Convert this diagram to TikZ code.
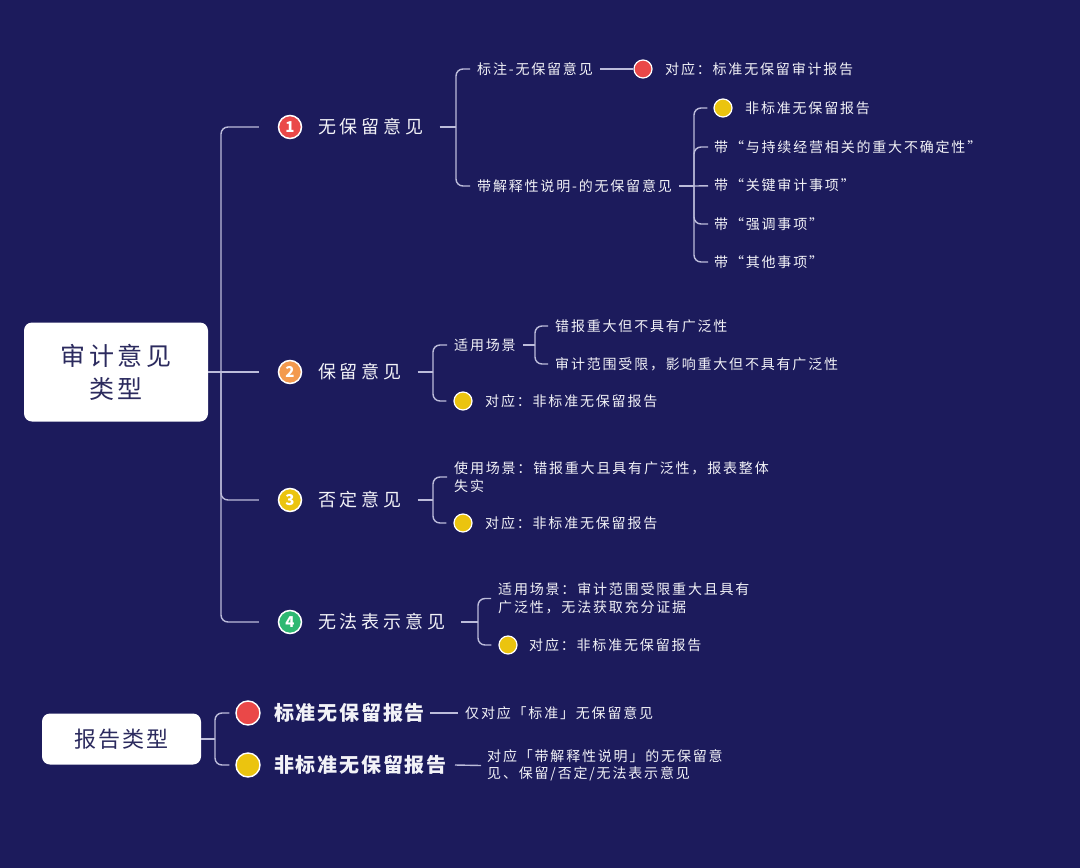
\documentclass[tikz,border=0pt]{standalone}
\usepackage{fontspec}
\setmainfont{Noto Sans CJK SC}
\newfontfamily\cjksm[LetterSpace=13]{Noto Sans CJK SC}
\newfontfamily\cjkmd[LetterSpace=21]{Noto Sans CJK SC}
\newfontfamily\cjkbg[LetterSpace=9]{Noto Sans CJK SC}
\newfontfamily\cjkrt[LetterSpace=15]{Noto Sans CJK SC}
\definecolor{bgc}{HTML}{1C1B5C}
\definecolor{linec}{HTML}{BCBCDA}
\definecolor{redc}{HTML}{EA4848}
\definecolor{orac}{HTML}{F39A4E}
\definecolor{yelc}{HTML}{EBC40F}
\definecolor{grnc}{HTML}{2EB872}
\definecolor{rootc}{HTML}{2B2A5E}
\definecolor{txtc}{HTML}{F2F2F7}
\tikzset{
  conn/.style={draw=linec, line width=1.4pt, rounded corners=7pt},
  rootbox/.style={fill=white, rounded corners=8pt, align=center, text=rootc, inner sep=0pt},
  topic/.style={anchor=west, inner sep=0pt, text=txtc, font=\cjkmd\fontsize{18}{22}\selectfont},
  leaf/.style={anchor=west, inner xsep=7pt, inner ysep=0pt, text=txtc, align=left, font=\cjksm\fontsize{14}{17.5}\selectfont},
  bigleaf/.style={anchor=west, inner sep=0pt, text=txtc, font=\cjkbg\bfseries\fontsize{20}{24}\selectfont},
  num/.style={circle, fill=#1, draw=white, line width=1.5pt, minimum size=23pt, inner sep=0pt, text=white, font=\bfseries\fontsize{15}{15}\selectfont},
  dot/.style={circle, fill=#1, draw=white, line width=1.2pt, minimum size=18pt, inner sep=0pt},
  bigdot/.style={circle, fill=#1, draw=white, line width=1.4pt, minimum size=24pt, inner sep=0pt},
}
\begin{document}
\begin{tikzpicture}[x=1pt, y=-1pt]
\useasboundingbox (0,0) rectangle (1080,868);
\fill[bgc] (0,0) rectangle (1080,868);

% ---------- root 1 ----------
\node[rootbox, minimum width=184pt, minimum height=99pt, font=\cjkrt\fontsize{25}{33}\selectfont] (root) at (116,372) {审计意见\\类型};
\coordinate (J0) at (221,372);

% level 1
\node[num=redc] (n1) at (290,127) {1};
\node[num=orac] (n2) at (290,372) {2};
\node[num=yelc] (n3) at (290,500) {3};
\node[num=grnc] (n4) at (290,622) {4};
\node[topic] (l1) at (318,127) {无保留意见};
\node[topic] (l2) at (318,372) {保留意见};
\node[topic] (l3) at (318,500) {否定意见};
\node[topic] (l4) at (318,622) {无法表示意见};

\draw[conn] (root.east) -- (J0);
\draw[conn, shorten >=19pt] (J0) |- (n1);
\draw[conn, shorten >=19pt] (J0) -- (n2);
\draw[conn, shorten >=19pt] (J0) |- (n3);
\draw[conn, shorten >=19pt] (J0) |- (n4);

% ---------- branch 1 ----------
\coordinate (J1) at (456,127);
\draw[conn] ([xshift=16pt]l1.east) -- (J1);
\node[leaf] (c11) at (470,69) {标注-无保留意见};
\node[leaf] (c12) at (470,186) {带解释性说明-的无保留意见};
\draw[conn] (J1) |- (c11);
\draw[conn] (J1) |- (c12);
\node[dot=redc] (d11) at (643,69) {};
\node[leaf, inner xsep=0pt] (t11) at (665,69) {对应：标准无保留审计报告};
\draw[conn] (c11.east) -- (d11);

\coordinate (J12) at (694,186);
\draw[conn] (c12.east) -- (J12);
\node[dot=yelc] (d121) at (723,108) {};
\node[leaf, inner xsep=0pt] (t121) at (745,108) {非标准无保留报告};
\node[leaf, inner xsep=6pt] (c122) at (708,147) {带“与持续经营相关的重大不确定性”};
\node[leaf, inner xsep=6pt] (c123) at (708,185) {带“关键审计事项”};
\node[leaf, inner xsep=6pt] (c124) at (708,224) {带“强调事项”};
\node[leaf, inner xsep=6pt] (c125) at (708,262) {带“其他事项”};
\draw[conn, shorten >=6pt] (J12) |- (d121);
\draw[conn] (J12) |- (c122);
\draw[conn] (J12) -- (c123);
\draw[conn] (J12) |- (c124);
\draw[conn] (J12) |- (c125);

% ---------- branch 2 ----------
\coordinate (J2) at (433,372);
\draw[conn] ([xshift=16pt]l2.east) -- (J2);
\node[leaf] (c21) at (447,345) {适用场景};
\draw[conn] (J2) |- (c21);
\node[dot=yelc] (d22) at (463,401) {};
\node[leaf, inner xsep=0pt] (t22) at (485,401) {对应：非标准无保留报告};
\draw[conn, shorten >=7pt] (J2) |- (d22);
\coordinate (J21) at (535,345);
\draw[conn] (c21.east) -- (J21);
\node[leaf] (c211) at (548,326) {错报重大但不具有广泛性};
\node[leaf] (c212) at (548,364) {审计范围受限，影响重大但不具有广泛性};
\draw[conn] (J21) |- (c211);
\draw[conn] (J21) |- (c212);

% ---------- branch 3 ----------
\coordinate (J3) at (433,500);
\draw[conn] ([xshift=16pt]l3.east) -- (J3);
\node[leaf] (c31) at (447,477) {使用场景：错报重大且具有广泛性，报表整体\\失实};
\draw[conn] (J3) |- (c31);
\node[dot=yelc] (d32) at (463,523) {};
\node[leaf, inner xsep=0pt] (t32) at (485,523) {对应：非标准无保留报告};
\draw[conn, shorten >=7pt] (J3) |- (d32);

% ---------- branch 4 ----------
\coordinate (J4) at (478,622);
\draw[conn] ([xshift=16pt]l4.east) -- (J4);
\node[leaf] (c41) at (491,598.5) {适用场景：审计范围受限重大且具有\\广泛性，无法获取充分证据};
\draw[conn] (J4) |- (c41);
\node[dot=yelc] (d42) at (508,645) {};
\node[leaf, inner xsep=0pt] (t42) at (529,645) {对应：非标准无保留报告};
\draw[conn, shorten >=7pt] (J4) |- (d42);

% ---------- root 2 ----------
\node[rootbox, minimum width=159pt, minimum height=51pt, font=\cjkbg\fontsize{22}{26}\selectfont] (root2) at (121.5,739) {报告类型};
\coordinate (J5) at (215,739);
\draw[conn] (root2.east) -- (J5);
\node[bigdot=redc] (e1) at (248,713) {};
\node[bigdot=yelc] (e2) at (248,765) {};
\draw[conn, shorten >=6pt] (J5) |- (e1);
\draw[conn, shorten >=6pt] (J5) |- (e2);
\node[bigleaf] (b1) at (274,713) {标准无保留报告};
\node[bigleaf] (b2) at (274,765) {非标准无保留报告};
\node[leaf] (bt1) at (458,713) {仅对应「标准」无保留意见};
\node[leaf, inner xsep=6pt] (bt2) at (481,765.5) {对应「带解释性说明」的无保留意\\见、保留/否定/无法表示意见};
\draw[conn] ([xshift=5pt]b1.east) -- (bt1.west);
\draw[conn] ([xshift=8pt]b2.east) -- (bt2.west);
\end{tikzpicture}
\end{document}
